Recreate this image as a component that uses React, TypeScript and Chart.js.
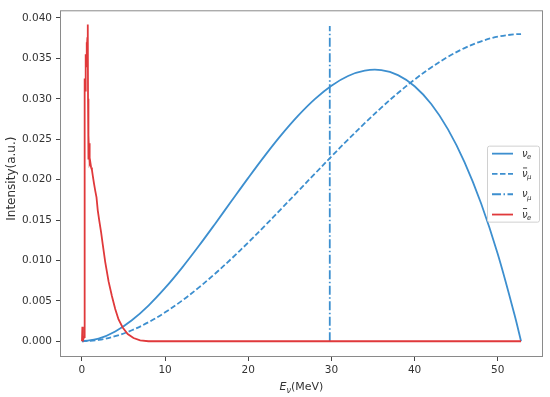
import { useEffect, useRef } from 'react';
import { Chart, registerables } from 'chart.js';

Chart.register(...registerables);

// Energy grid (MeV) for the muon-decay spectra
const energyMeV = [0, 2, 4, 6, 8, 10, 12, 14, 16, 18, 20, 22, 24, 26, 28, 30, 32, 34, 36, 38, 40, 42, 44, 46, 48, 50, 52, 52.8];
// nu_e spectrum
const nuEValues = [0, 0.000313, 0.001203, 0.002596, 0.004418, 0.006595, 0.009053, 0.011717, 0.014515, 0.017373, 0.020215, 0.022969, 0.02556, 0.027914, 0.029958, 0.031617, 0.032818, 0.033485, 0.033547, 0.032928, 0.031555, 0.029354, 0.02625, 0.02217, 0.01704, 0.010785, 0.003333, 0];
// anti nu_mu spectrum
const nuMuBarValues = [0, 0.000159, 0.000621, 0.001361, 0.002353, 0.003573, 0.004996, 0.006598, 0.008353, 0.010238, 0.012226, 0.014294, 0.016416, 0.018568, 0.020725, 0.022862, 0.024955, 0.026978, 0.028907, 0.030717, 0.032383, 0.033881, 0.035185, 0.036272, 0.037115, 0.037691, 0.037974, 0.038];
// nu_mu monochromatic line
const nuMuEnergy = [29.8, 29.8];
const nuMuValues = [0, 0.039];
// anti nu_e spectrum
const antiNuEEnergy = [0, 0.05, 0.1, 0.15, 0.25, 0.3, 0.35, 0.4, 0.45, 0.5, 0.55, 0.6, 0.65, 0.7, 0.73, 0.76, 0.8, 0.85, 0.9, 0.95, 1.0, 1.1, 1.2, 1.3, 1.45, 1.6, 1.75, 1.9, 2.1, 2.3, 2.5, 2.8, 3.2, 3.6, 4.0, 4.4, 4.9, 5.5, 6.2, 7.0, 8.0, 52.8];
const antiNuEValues = [0, 0.0018, 0.0004, 0.0002, 0.0005, 0.029, 0.0325, 0.031, 0.0355, 0.034, 0.037, 0.036, 0.0375, 0.0392, 0.03, 0.0225, 0.0255, 0.0235, 0.0245, 0.022, 0.0222, 0.0215, 0.0212, 0.0205, 0.0195, 0.0186, 0.0178, 0.0162, 0.0148, 0.0135, 0.012, 0.0098, 0.0074, 0.0056, 0.004, 0.0027, 0.0017, 0.0009, 0.0004, 0.0001, 0, 0];

const xTicks = [0, 10, 20, 30, 40, 50];
const yTicks = [0, 0.005, 0.01, 0.015, 0.02, 0.025, 0.03, 0.035, 0.04];

const legendItems = [
  { sub: 'e', bar: false },
  { sub: 'μ', bar: true },
  { sub: 'μ', bar: false },
  { sub: 'e', bar: true },
];

const BLUE = '#3d8fcf';
const RED = '#e0393b';
const FONT = "'DejaVu Sans', sans-serif";

const pts = (xs: number[], ys: number[]) => xs.map((x, i) => ({ x, y: ys[i] }));

export default function App() {
  const ref = useRef<HTMLCanvasElement | null>(null);
  useEffect(() => {
    document.body.style.margin = '0';
    const canvas = ref.current!;
    const styles = [
      { color: BLUE, dash: [] as number[] },
      { color: BLUE, dash: [5.5, 2.5] },
      { color: BLUE, dash: [9, 2.5, 1.5, 2.5] },
      { color: RED, dash: [] as number[] },
    ];
    const overlay = {
      id: 'overlay',
      afterDraw(chart: any) {
        const { ctx, chartArea: a } = chart;
        ctx.save();
        // frame
        ctx.strokeStyle = '#8a8a8a';
        ctx.lineWidth = 1;
        ctx.strokeRect(a.left + 0.5, a.top + 0.5, a.right - a.left - 1, a.bottom - a.top - 1);
        // legend
        const bw = 52, bh = 76;
        const bx = a.right - 4 - bw;
        const by = (a.top + a.bottom) / 2 - bh / 2;
        ctx.fillStyle = 'rgba(255,255,255,0.85)';
        ctx.strokeStyle = '#d0d0d0';
        ctx.beginPath();
        ctx.roundRect(bx + 0.5, by + 0.5, bw, bh, 2);
        ctx.fill();
        ctx.stroke();
        legendItems.forEach((it, i) => {
          const y = by + 8 + i * 20.3;
          ctx.strokeStyle = styles[i].color;
          ctx.lineWidth = 1.8;
          ctx.setLineDash(styles[i].dash);
          ctx.beginPath();
          ctx.moveTo(bx + 5, y);
          ctx.lineTo(bx + 26, y);
          ctx.stroke();
          ctx.setLineDash([]);
          ctx.fillStyle = '#333';
          ctx.textBaseline = 'alphabetic';
          ctx.textAlign = 'left';
          ctx.font = `italic 10px ${FONT}`;
          const tx = bx + 35;
          ctx.fillText('ν', tx, y + 3);
          const w = ctx.measureText('ν').width;
          ctx.font = `italic 7px ${FONT}`;
          ctx.fillText(it.sub, tx + w - 0.5, y + 5.5);
          if (it.bar) {
            ctx.strokeStyle = '#333';
            ctx.lineWidth = 0.9;
            ctx.beginPath();
            ctx.moveTo(tx + 1, y - 6);
            ctx.lineTo(tx + w - 0.5, y - 6);
            ctx.stroke();
          }
        });
        // x label
        ctx.fillStyle = '#333';
        ctx.textBaseline = 'alphabetic';
        ctx.font = `italic 11px ${FONT}`;
        const we = ctx.measureText('E').width;
        ctx.font = `italic 8px ${FONT}`;
        const wn = ctx.measureText('ν').width;
        ctx.font = `11px ${FONT}`;
        const wm = ctx.measureText('(MeV)').width;
        const total = we + wn + wm;
        const x0 = (a.left + a.right) / 2 - total / 2;
        const yb = 390;
        ctx.textAlign = 'left';
        ctx.font = `italic 11px ${FONT}`;
        ctx.fillText('E', x0, yb);
        ctx.font = `italic 8px ${FONT}`;
        ctx.fillText('ν', x0 + we, yb + 2.5);
        ctx.font = `11px ${FONT}`;
        ctx.fillText('(MeV)', x0 + we + wn, yb);
        // y label
        ctx.translate(12, (a.top + a.bottom) / 2 - 5);
        ctx.rotate(-Math.PI / 2);
        ctx.textAlign = 'center';
        ctx.textBaseline = 'middle';
        ctx.font = `12px ${FONT}`;
        ctx.fillText('Intensity(a.u.)', 0, 0);
        ctx.restore();
      },
    };
    const chart = new Chart(canvas, {
      type: 'line',
      data: {
        datasets: [
          { data: pts(energyMeV, nuEValues), borderColor: BLUE, borderWidth: 1.8, tension: 0.35, order: 3 },
          { data: pts(energyMeV, nuMuBarValues), borderColor: BLUE, borderWidth: 1.8, borderDash: [5.5, 2.5], tension: 0.35, order: 2 },
          { data: pts(nuMuEnergy, nuMuValues), borderColor: BLUE, borderWidth: 1.8, borderDash: [9, 2.5, 1.5, 2.5], order: 1 },
          { data: pts(antiNuEEnergy, antiNuEValues), borderColor: RED, borderWidth: 1.8, tension: 0, order: 0 },
        ] as any,
      },
      options: {
        animation: false,
        responsive: false,
        parsing: false as any,
        elements: { point: { radius: 0 } },
        layout: { padding: { top: 3, right: 7, left: 0, bottom: 0 } },
        plugins: { legend: { display: false }, tooltip: { enabled: false } },
        scales: {
          x: {
            type: 'linear',
            min: -2.64,
            max: 55.44,
            afterBuildTicks: (s: any) => { s.ticks = xTicks.map((v) => ({ value: v })); },
            afterFit: (s: any) => { s.height = 40; },
            ticks: { color: '#333', font: { family: FONT, size: 10.5 }, padding: 3, maxRotation: 0, callback: (v: any) => String(v) },
            grid: { drawOnChartArea: false, drawTicks: true, tickLength: 4, color: '#444' },
            border: { display: false },
          },
          y: {
            type: 'linear',
            min: -0.00195,
            max: 0.04095,
            afterBuildTicks: (s: any) => { s.ticks = yTicks.map((v) => ({ value: v })); },
            afterFit: (s: any) => { s.width = 60; },
            ticks: { color: '#333', font: { family: FONT, size: 10.5 }, padding: 4, callback: (v: any) => Number(v).toFixed(3) },
            grid: { drawOnChartArea: false, drawTicks: true, tickLength: 4, color: '#444' },
            border: { display: false },
          },
        },
      },
      plugins: [overlay],
    });
    return () => chart.destroy();
  }, []);
  return <canvas ref={ref} width={550} height={397} style={{ display: 'block' }} />;
}
